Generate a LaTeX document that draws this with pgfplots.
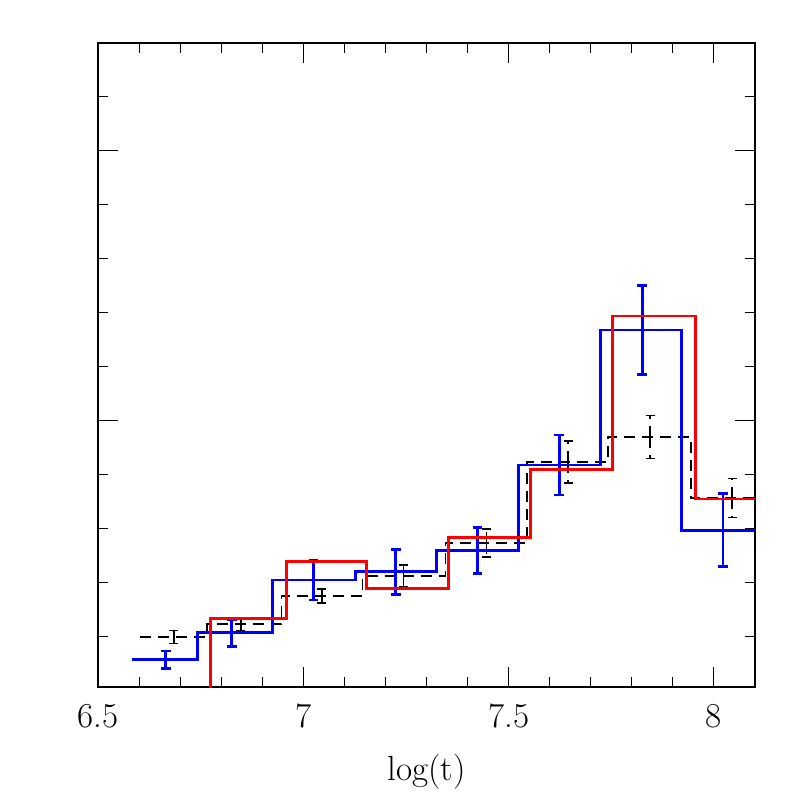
\documentclass[border=0pt]{standalone}
\usepackage{pgfplots}
\pgfplotsset{compat=1.18}
\begin{document}
\begin{tikzpicture}
\useasboundingbox (-49pt,-55pt) rectangle (349.5pt,343.5pt);
\begin{axis}[
  at={(0,0)}, anchor=south west,
  scale only axis, width=328.5pt, height=322pt,
  xmin=6.5, xmax=8.1, ymin=0.0148, ymax=2.4,
  xtick={6.5,7,7.5,8}, xticklabels={6.5,7,7.5,8},
  minor xtick={6.6,6.7,6.8,6.9,7.1,7.2,7.3,7.4,7.6,7.7,7.8,7.9,8.1},
  ytick={1,2}, yticklabels={{},{}},
  minor ytick={0.2,0.4,0.6,0.8,1.2,1.4,1.6,1.8,2.2},
  major tick length=10pt, minor tick length=5pt,
  tick style={black, line width=0.5pt},
  axis line style={line width=0.6pt},
  tick align=inside,
  ticklabel style={font=\fontsize{17.5}{20}\selectfont},
  xticklabel style={yshift=-5pt},
  xlabel={log(t)},
  xlabel style={font=\fontsize{17.5}{20}\selectfont, yshift=-6pt},
]
% black dashed histogram
\addplot[black, line width=0.8pt, dash pattern=on 5.5pt off 3.5pt, const plot mark left] coordinates {
(6.602,0.2) (6.765,0.248) (6.947,0.352) (7.144,0.426) (7.346,0.548) (7.545,0.848) (7.742,0.941) (7.944,0.715) (8.144,0.715)};
\addplot[draw=none, mark=none,
  error bars/.cd, y dir=both, y explicit,
  error bar style={draw=black, line width=0.8pt, dash pattern=on 5.5pt off 3.5pt},
  error mark options={rotate=90, draw=black, mark size=2.25pt, line width=0.8pt, solid}]
  table[x=x, y=y, y error=e] {
x y e
6.685 0.2 0.024
6.848 0.248 0.024
7.045 0.352 0.026
7.244 0.426 0.041
7.446 0.548 0.052
7.645 0.848 0.078
7.845 0.941 0.080
8.044 0.715 0.072
};
% blue histogram
\addplot[blue, line width=1.45pt, const plot mark left] coordinates {
(6.583,0.115) (6.743,0.215) (6.925,0.411) (7.127,0.441) (7.324,0.519) (7.524,0.837) (7.723,1.337) (7.922,0.596) (8.122,0.596)};
\addplot[draw=none, mark=none,
  error bars/.cd, y dir=both, y explicit,
  error bar style={draw=blue, line width=1.45pt},
  error mark options={rotate=90, draw=blue, mark size=2.4pt, line width=1.45pt}]
  table[x=x, y=y, y error=e] {
x y e
6.665 0.115 0.033
6.826 0.215 0.050
7.025 0.411 0.074
7.225 0.441 0.083
7.424 0.519 0.085
7.623 0.837 0.111
7.825 1.337 0.165
8.022 0.596 0.135
};
% red histogram
\addplot[red, line width=1.45pt, const plot mark left] coordinates {
(6.6,-0.5) (6.775,0.267) (6.960,0.478) (7.154,0.381) (7.353,0.567) (7.553,0.822) (7.752,1.389) (7.954,0.711) (8.153,0.711)};
\end{axis}
\end{tikzpicture}
\end{document}
